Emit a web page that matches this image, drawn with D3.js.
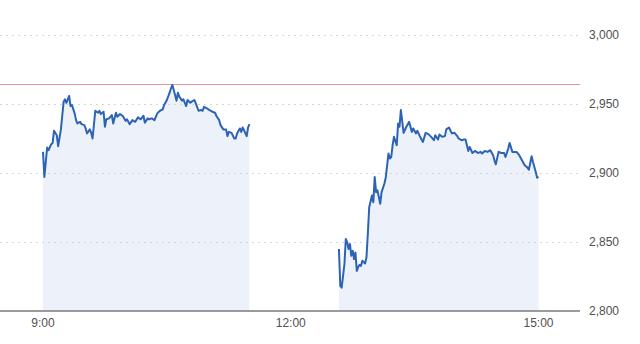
<!DOCTYPE html>
<html lang="en">
<head>
<meta charset="UTF-8">
<title>Intraday index chart</title>
<script src="https://d3js.org/d3.v7.min.js"></script>
<style>
  body { margin: 0; background: #fff; }
  svg text { font-family: "Liberation Sans", Arial, Helvetica, sans-serif; }
</style>
</head>
<body>
<div id="chart"></div>
<script>
// minutes after 9:00, morning session
var amMinutes = [0,1,3,4,6,7,8,10,11,13,15,16,17,19,20,21,23,24,25,27,28,30,31,32,34,35,36,38,40,41,
  42,44,45,46,48,50,51,53,54,56,58,60,61,63,65,67,69,71,73,74,76,77,79,81,83,85,87,88,90,92,
  93,94,95,97,98,99,101,102,104,105,107,108,110,111,113,115,116,117,119,121,123,125,126,128,129,131,133,134,135,137,
  139,140,141,143,144,145,146,148,149,150];
var amValues = [2915.3,2897.1,2918.5,2916.5,2920.9,2921.8,2930.6,2927.4,2919.4,2931.6,2951.7,2953.4,2950.9,2955.8,2948.5,2949.3,2943.2,2938.3,2935.9,2937.1,
  2935.4,2934.7,2932.3,2928.7,2931.6,2929.1,2925.0,2945.1,2943.7,2945.1,2942.7,2944.4,2933.5,2938.9,2939.6,2942.0,2935.9,2943.7,2940.8,2942.7,
  2941.3,2937.8,2938.9,2935.4,2938.3,2937.1,2940.3,2938.9,2941.5,2936.4,2939.6,2938.9,2939.6,2938.3,2943.2,2945.1,2946.1,2949.3,2952.9,2958.2,
  2961.4,2963.8,2960.2,2952.4,2958.2,2955.3,2952.4,2953.4,2948.5,2952.9,2950.9,2951.7,2952.9,2950.5,2945.1,2945.6,2945.1,2948.0,2946.9,2945.6,
  2944.4,2943.7,2941.3,2938.3,2934.7,2931.6,2931.6,2926.7,2929.8,2929.1,2925.0,2925.0,2928.7,2932.3,2929.8,2933.0,2931.1,2926.7,2933.0,2935.4];

// minutes after 9:00, afternoon session
var pmMinutes = [215,216,217,219,220,221,222,223,224,225,226,227,228,229,230,231,232,234,235,236,
  237,239,240,241,242,243,245,246,248,249,251,252,253,254,255,257,258,259,260,262,
  264,266,268,269,271,272,274,276,278,280,282,284,285,287,288,290,292,293,295,297,
  299,301,302,304,306,307,309,310,312,314,316,318,319,321,323,325,327,328,329,331,
  333,335,336,338,339,341,344,346,348,350,352,353,355,356,358,359,360];
var pmValues = [2844.9,2818.2,2816.9,2834.0,2852.2,2849.7,2844.9,2848.5,2840.0,2843.7,2837.6,2842.4,2829.1,2832.0,2833.5,2832.7,2836.4,2834.4,2838.8,2855.8,
  2875.2,2883.7,2878.8,2897.1,2886.1,2887.4,2877.7,2886.1,2892.2,2896.6,2914.1,2910.5,2911.6,2920.1,2926.2,2920.1,2935.9,2933.5,2945.6,2929.1,
  2933.5,2937.1,2929.8,2932.3,2928.7,2930.6,2926.2,2922.5,2929.1,2928.2,2926.2,2923.8,2927.4,2924.3,2927.9,2926.2,2926.7,2931.6,2933.0,2928.7,
  2929.1,2926.7,2925.0,2923.8,2924.3,2924.3,2916.0,2918.9,2914.5,2916.0,2914.5,2915.3,2914.1,2916.0,2915.3,2916.5,2912.9,2909.2,2906.3,2915.3,
  2914.5,2914.5,2911.6,2917.7,2921.8,2915.3,2915.3,2912.9,2909.2,2905.6,2903.9,2902.4,2912.1,2908.0,2900.7,2896.6,2897.1];

var prevClose = 2964.8;
var yTicks = [2800, 2850, 2900, 2950, 3000];
var xTickLabels = ["9:00", "12:00", "15:00"];

var W = 640, H = 344;
var plotRight = 580;

var base = new Date(2024, 0, 10, 9, 0);
function toDate(m) { return new Date(base.getTime() + m * 60000); }
function parseTick(s) {
  var p = s.split(":");
  return new Date(2024, 0, 10, +p[0], +p[1]);
}

var x = d3.scaleTime()
  .domain([parseTick("9:00"), parseTick("15:00")])
  .range([43, 538.5]);

var y = d3.scaleLinear()
  .domain([2800, 3000])
  .range([311, 35]);

var svg = d3.select("#chart").append("svg")
  .attr("width", W)
  .attr("height", H);

var amData = amMinutes.map((m, i) => ({ t: toDate(m), v: amValues[i] }));
var pmData = pmMinutes.map((m, i) => ({ t: toDate(m), v: pmValues[i] }));

var area = d3.area()
  .x(d => x(d.t))
  .y0(y(2800))
  .y1(d => y(d.v));

var line = d3.line()
  .x(d => x(d.t))
  .y(d => y(d.v));

// fills
[amData, pmData].forEach(function(ds) {
  svg.append("path")
    .datum(ds)
    .attr("fill", "#edf2fa")
    .attr("d", area);
});

// gridlines + right axis labels
var yAxis = svg.append("g");
yTicks.forEach(function(t) {
  var yy = Math.round(y(t)) + 0.5;
  if (t !== 2800) {
    yAxis.append("line")
      .attr("x1", 0).attr("x2", plotRight)
      .attr("y1", yy).attr("y2", yy)
      .attr("stroke", "#d6d6d6")
      .attr("stroke-width", 1)
      .attr("stroke-dasharray", "2,4");
  }
  yAxis.append("text")
    .attr("x", 589)
    .attr("y", y(t))
    .attr("dy", "0.35em")
    .attr("font-size", 12)
    .attr("fill", "#505050")
    .text(d3.format(",")(t));
});

// previous close
var pcY = Math.round(y(prevClose)) + 0.5;
svg.append("line")
  .attr("x1", 0).attr("x2", plotRight)
  .attr("y1", pcY).attr("y2", pcY)
  .attr("stroke", "#e8939b")
  .attr("stroke-width", 1);

// baseline
svg.append("line")
  .attr("x1", 0).attr("x2", plotRight)
  .attr("y1", y(2800)).attr("y2", y(2800))
  .attr("stroke", "#7a7a7a")
  .attr("stroke-width", 1.5);

// x labels
xTickLabels.forEach(function(s) {
  svg.append("text")
    .attr("x", x(parseTick(s)))
    .attr("y", 323)
    .attr("dy", "0.35em")
    .attr("text-anchor", "middle")
    .attr("font-size", 12)
    .attr("fill", "#505050")
    .text(s);
});

// price lines
[amData, pmData].forEach(function(ds) {
  svg.append("path")
    .datum(ds)
    .attr("fill", "none")
    .attr("stroke", "#2d63b5")
    .attr("stroke-width", 2)
    .attr("stroke-linejoin", "round")
    .attr("d", line);
});
</script>
</body>
</html>
